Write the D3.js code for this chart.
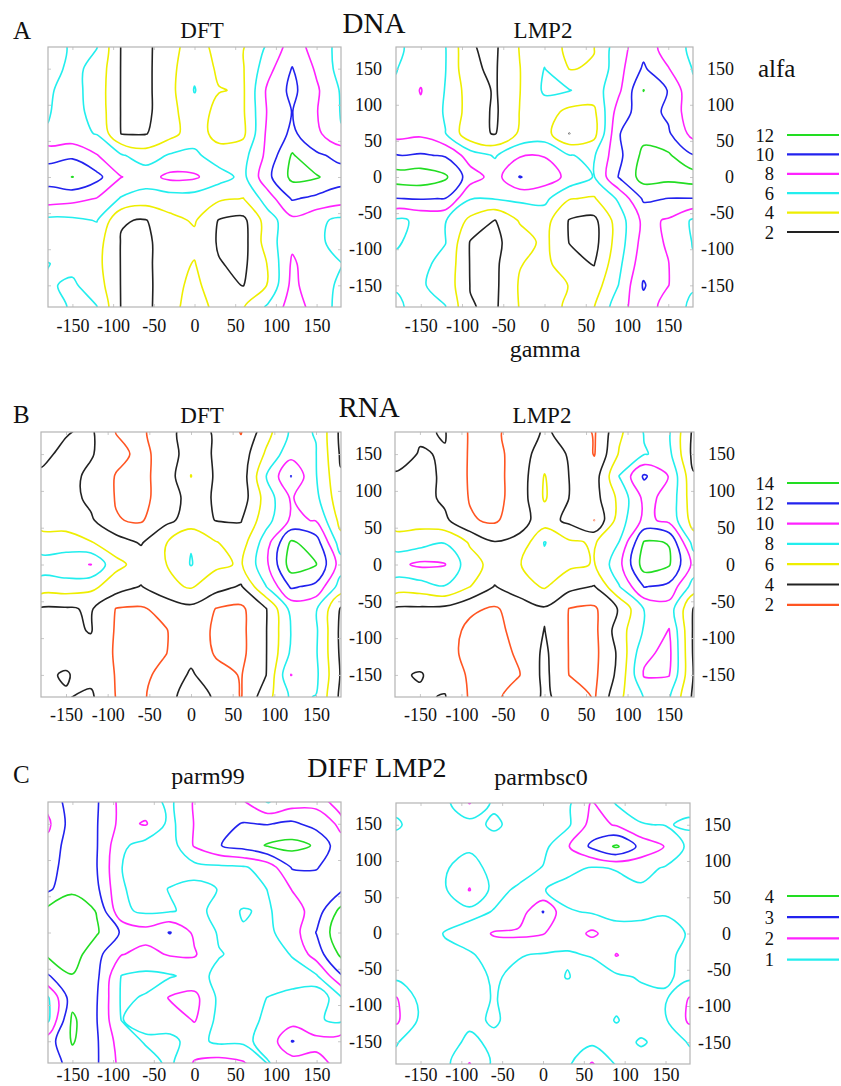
<!DOCTYPE html>
<html>
<head>
<meta charset="utf-8">
<title>alfa / gamma energy maps</title>
<script src="https://cdn.jsdelivr.net/npm/d3@7"></script>
<style>
  body { margin: 0; background: #fff; }
  svg { display: block; }
  text { font-family: "Liberation Serif", "Times New Roman", Times, serif; fill: #111; }
</style>
</head>
<body>
<svg id="chart" width="841" height="1086" viewBox="0 0 841 1086"></svg>
<script>
// grids every 30 deg:
// rows alfa 180 .. -150 (top to bottom), columns gamma -180 .. 150
const gridStep = 30;
const gammaTicks = [-150, -100, -50, 0, 50, 100, 150];
const alfaTicks = [150, 100, 50, 0, -50, -100, -150];

const levelsDNA = [2, 4, 6, 8, 10, 12];
const colorsDNA = ["#222222", "#eeee00", "#22eeee", "#ff22ff", "#2222ee", "#22dd22"];
const levelsRNA = [2, 4, 6, 8, 10, 12, 14];
const colorsRNA = ["#ff5522", "#222222", "#eeee00", "#22eeee", "#ff22ff", "#2222ee", "#22dd22"];
const levelsDIFF = [1, 2, 3, 4];
const colorsDIFF = ["#22eeee", "#ff22ff", "#2222ee", "#22dd22"];

const dnaDFT = [
  [5.3, 6.2, 6.05, 1.9, 1.5, 3.3, 5.0, 3.3, 3.9, 6.3, 9.0, 7.2],
  [5.2, 6.5, 5.4, 1.9, 1.5, 3.4, 5.6, 3.6, 3.9, 7.3, 10.1, 7.7],
  [5.8, 6.6, 5.2, 1.9, 1.5, 3.4, 6.1, 4.1, 3.8, 8.4, 10.5, 8.3],
  [5.9, 6.7, 5.3, 1.9, 1.5, 3.4, 5.2, 3.3, 3.8, 8.2, 10.05, 8.1],
  [6.1, 6.6, 5.9, 1.95, 1.9, 3.3, 5.1, 3.2, 3.6, 8.5, 10.4, 8.5],
  [9.5, 9.6, 8.1, 6.2, 5.0, 6.2, 6.4, 5.0, 5.3, 8.6, 12.2, 10.3],
  [10.8, 12.05, 10.6, 8.05, 7.2, 8.5, 8.3, 6.8, 5.5, 9.5, 12.5, 12.2],
  [9.0, 8.6, 7.9, 5.8, 5.0, 5.0, 5.0, 4.3, 3.95, 7.0, 10.2, 9.5],
  [5.5, 5.6, 6.1, 2.1, 1.9, 3.5, 4.2, 1.9, 1.5, 5.0, 7.5, 6.5],
  [5.3, 5.2, 4.8, 1.9, 1.5, 3.3, 3.5, 1.8, 1.3, 5.0, 7.6, 6.4],
  [6.05, 5.5, 4.6, 1.9, 1.5, 3.3, 4.1, 2.1, 1.6, 4.1, 8.3, 6.8],
  [5.8, 6.3, 5.0, 1.9, 1.5, 3.2, 4.6, 2.5, 1.95, 4.1, 8.6, 6.5]
];

const dnaLMP2 = [
  [5.6, 6.8, 6.05, 2.1, 1.7, 4.1, 5.2, 3.5, 3.95, 7.2, 9.3, 7.0],
  [5.9, 7.3, 6.05, 2.2, 1.8, 3.95, 6.05, 3.95, 4.1, 7.3, 10.3, 8.1],
  [6.3, 8.1, 5.9, 3.0, 1.8, 3.95, 6.3, 6.1, 5.0, 7.6, 12.05, 9.9],
  [6.6, 7.6, 5.8, 3.1, 1.7, 4.05, 5.0, 3.4, 3.6, 9.0, 11.0, 9.6],
  [7.3, 7.6, 6.05, 2.5, 1.9, 4.3, 4.8, 1.98, 3.3, 9.9, 11.4, 10.3],
  [10.1, 10.2, 9.8, 7.0, 5.8, 7.8, 7.9, 6.05, 5.8, 9.5, 12.5, 12.3],
  [13.0, 13.2, 12.3, 9.0, 7.2, 10.1, 9.0, 7.5, 5.9, 10.1, 12.8, 12.6],
  [9.95, 10.1, 9.95, 6.1, 6.1, 6.4, 6.5, 4.1, 3.8, 6.3, 10.3, 9.95],
  [5.7, 6.3, 6.1, 3.5, 1.95, 4.2, 4.8, 1.9, 1.5, 5.0, 8.5, 7.8],
  [5.9, 6.3, 6.05, 1.9, 1.6, 3.0, 4.5, 1.95, 1.3, 5.0, 8.8, 7.8],
  [6.2, 6.4, 5.5, 1.9, 1.6, 3.9, 4.6, 2.6, 1.9, 5.5, 9.3, 8.05],
  [6.2, 6.2, 5.3, 1.95, 1.6, 4.2, 4.8, 3.95, 3.0, 6.05, 10.2, 8.05]
];

const rnaDFT = [
  [3.5, 3.9, 4.3, 1.95, 1.6, 3.4, 4.8, 3.8, 1.9, 5.2, 8.3, 7.95],
  [3.7, 4.3, 4.2, 2.5, 1.6, 2.6, 5.3, 3.7, 2.8, 6.3, 9.3, 8.05],
  [4.2, 4.8, 3.5, 1.9, 1.5, 2.8, 6.05, 3.7, 2.8, 7.95, 12.05, 8.1],
  [4.6, 4.9, 3.5, 1.9, 1.5, 2.8, 4.8, 3.8, 2.9, 6.8, 10.2, 8.5],
  [5.3, 5.2, 4.3, 2.1, 1.8, 3.5, 4.8, 3.95, 3.9, 7.2, 10.3, 9.9],
  [6.8, 6.8, 6.1, 5.0, 3.8, 5.9, 7.9, 6.1, 5.0, 9.05, 14.3, 13.0],
  [9.0, 9.5, 10.05, 6.5, 5.3, 5.95, 8.1, 6.4, 5.8, 9.5, 15.0, 14.1],
  [7.05, 7.05, 6.5, 5.0, 3.9, 5.5, 6.2, 4.8, 3.8, 7.95, 12.3, 11.5],
  [3.8, 3.8, 4.2, 1.95, 1.8, 2.6, 3.5, 1.95, 1.6, 3.9, 8.6, 8.2],
  [3.5, 3.6, 4.1, 1.8, 1.5, 1.9, 3.3, 1.6, 1.5, 3.9, 8.05, 8.3],
  [3.6, 3.6, 3.3, 1.8, 1.5, 1.95, 3.3, 1.8, 1.5, 3.9, 8.3, 8.2],
  [3.8, 4.1, 3.5, 1.9, 1.6, 2.5, 4.3, 2.6, 1.9, 3.95, 10.05, 8.4]
];

const rnaLMP2 = [
  [3.5, 3.8, 4.1, 1.8, 1.6, 3.0, 4.2, 3.5, 1.8, 5.6, 8.1, 8.2],
  [3.3, 4.1, 3.9, 1.8, 1.4, 2.9, 5.2, 3.8, 1.9, 6.2, 7.9, 8.5],
  [4.2, 4.6, 3.7, 1.8, 1.4, 2.9, 6.1, 3.95, 3.0, 8.05, 12.3, 9.9],
  [4.6, 4.8, 3.6, 1.9, 1.4, 2.9, 6.2, 3.95, 3.2, 6.5, 10.5, 9.5],
  [5.05, 5.2, 4.4, 2.2, 1.7, 3.3, 4.9, 3.5, 1.98, 7.0, 10.5, 9.5],
  [7.05, 7.2, 7.9, 5.8, 4.1, 4.5, 8.1, 6.3, 5.8, 8.05, 14.2, 13.95],
  [9.4, 10.4, 10.1, 6.8, 5.3, 5.9, 7.5, 6.4, 5.9, 9.4, 15.0, 14.2],
  [7.05, 7.05, 7.9, 6.05, 3.9, 5.2, 6.2, 4.6, 3.9, 7.9, 12.1, 11.5],
  [3.8, 3.7, 3.5, 2.3, 1.8, 2.8, 3.8, 1.95, 1.7, 4.2, 8.1, 9.05],
  [3.6, 3.5, 2.8, 1.6, 1.5, 2.6, 4.05, 1.9, 1.5, 5.05, 8.2, 10.1],
  [3.6, 3.4, 2.5, 1.6, 1.5, 2.2, 4.4, 1.9, 1.5, 4.4, 9.6, 10.5],
  [3.8, 4.1, 3.4, 1.7, 1.5, 1.95, 4.5, 1.95, 1.6, 4.6, 10.2, 10.1]
];

const diffParm99 = [
  [2.3, 3.5, 3.1, 1.7, 1.4, 0.8, 2.1, 2.4, 2.1, 0.95, 1.5, 1.7],
  [1.8, 3.5, 3.05, 1.7, 2.1, 0.7, 2.05, 2.7, 3.05, 2.95, 3.2, 2.6],
  [2.3, 3.6, 3.05, 1.2, 0.6, 0.5, 2.1, 2.95, 3.4, 4.1, 4.3, 3.9],
  [2.5, 3.7, 3.02, 1.02, 0.5, 0.5, 0.7, 0.8, 0.9, 1.4, 3.1, 3.05],
  [2.8, 3.8, 3.2, 1.1, 0.6, 1.05, 1.2, 0.98, 0.6, 1.02, 2.05, 2.6],
  [4.3, 4.6, 3.95, 1.2, 0.8, 0.9, 1.3, 0.7, 1.05, 0.9, 1.5, 2.5],
  [4.8, 4.8, 4.1, 2.9, 2.4, 3.05, 1.8, 0.9, 0.95, 0.8, 1.5, 3.05],
  [4.2, 4.5, 3.3, 2.05, 1.7, 2.1, 2.1, 1.05, 0.8, 0.6, 1.05, 2.5],
  [2.9, 3.95, 3.2, 0.98, 0.8, 0.9, 1.3, 0.8, 0.6, 0.5, 0.7, 0.9],
  [0.9, 3.6, 3.05, 0.9, 1.05, 2.1, 2.3, 0.8, 0.6, 1.02, 1.2, 1.1],
  [0.8, 4.2, 3.02, 0.98, 1.2, 1.4, 2.1, 0.7, 0.6, 1.2, 1.5, 1.1],
  [2.5, 4.1, 3.1, 1.5, 0.9, 0.8, 1.3, 0.8, 0.8, 1.3, 3.05, 2.3]
];

const diffBsc0 = [
  [0.8, 0.6, 0.7, 2.05, 0.8, 0.6, 0.6, 0.8, 2.1, 0.9, 0.6, 0.7],
  [1.1, 0.7, 0.6, 0.6, 1.2, 0.6, 0.5, 0.8, 2.4, 1.9, 1.05, 0.95],
  [0.7, 0.5, 0.5, 0.8, 0.5, 0.5, 0.7, 1.9, 3.2, 4.15, 2.7, 1.95],
  [0.7, 0.6, 0.9, 1.5, 0.6, 0.6, 1.05, 1.3, 0.9, 1.05, 1.3, 0.9],
  [0.6, 0.6, 0.9, 2.05, 0.7, 1.15, 1.05, 0.6, 0.6, 0.7, 0.85, 0.7],
  [0.6, 0.5, 0.6, 0.7, 1.05, 1.4, 3.05, 1.1, 0.9, 0.7, 0.8, 0.95],
  [0.95, 0.5, 1.05, 1.4, 2.1, 2.2, 2.05, 1.4, 2.2, 1.4, 1.3, 1.2],
  [0.6, 0.5, 0.8, 0.9, 1.3, 1.05, 0.9, 0.9, 1.05, 2.05, 1.4, 1.3],
  [0.8, 0.5, 0.5, 0.7, 1.1, 0.8, 0.6, 1.05, 0.6, 0.8, 1.1, 1.1],
  [2.1, 0.7, 0.6, 0.7, 1.05, 0.7, 0.5, 0.5, 0.6, 0.8, 0.7, 0.9],
  [2.2, 0.8, 0.6, 0.8, 1.1, 0.7, 0.5, 0.5, 0.6, 1.05, 0.6, 0.9],
  [1.05, 0.6, 0.6, 1.2, 0.8, 0.6, 0.5, 0.6, 0.8, 0.6, 1.1, 0.7]
];

(() => {
    let svg = d3.select("#chart");
    let defs = svg.append("defs");
    let serif = "Liberation Serif, Times New Roman, serif";

    let panels = [
        {id: "a1", data: dnaDFT, levels: levelsDNA, colors: colorsDNA, x0: 48, x1: 341, y0: 47, y1: 307, pad: 12},
        {id: "a2", data: dnaLMP2, levels: levelsDNA, colors: colorsDNA, x0: 396, x1: 693, y0: 47, y1: 307, pad: 12},
        {id: "b1", data: rnaDFT, levels: levelsRNA, colors: colorsRNA, x0: 41, x1: 341, y0: 432, y1: 697, pad: 11},
        {id: "b2", data: rnaLMP2, levels: levelsRNA, colors: colorsRNA, x0: 395, x1: 694, y0: 432, y1: 697, pad: 11},
        {id: "c1", data: diffParm99, levels: levelsDIFF, colors: colorsDIFF, x0: 48, x1: 341, y0: 802, y1: 1063, pad: 5},
        {id: "c2", data: diffBsc0, levels: levelsDIFF, colors: colorsDIFF, x0: 396, x1: 690, y0: 803, y1: 1064, pad: 4}
    ];

    let drawPanel = (p) => {
        let x = d3.scaleLinear().domain([-180, 180]).range([p.x0, p.x1]);
        let y = d3.scaleLinear().domain([180, -180]).range([p.y0, p.y1]);

        defs.append("clipPath")
            .attr("id", "clip-" + p.id)
            .append("rect")
            .attr("x", p.x0)
            .attr("y", p.y0)
            .attr("width", p.x1 - p.x0)
            .attr("height", p.y1 - p.y0);

        // periodic angles: pad the grid by one cell on every side
        let n = p.data.length;
        let wrap = [n - 1].concat(d3.range(n), [0, 1]);
        let values = [];
        wrap.forEach(r => wrap.forEach(c => values.push(p.data[r][c])));

        let iso = d3.contours()
            .size([wrap.length, wrap.length])
            .thresholds(p.levels)(values);

        let line = d3.line()
            .x(d => x(-180 - gridStep + gridStep * (d[0] - 0.5)))
            .y(d => y(180 + gridStep - gridStep * (d[1] - 0.5)))
            .curve(d3.curveCatmullRomClosed.alpha(0.5));

        let g = svg.append("g").attr("clip-path", "url(#clip-" + p.id + ")");
        iso.forEach((c, i) => {
            c.coordinates.forEach(poly => poly.forEach(ring => {
                g.append("path")
                    .attr("d", line(ring.slice(0, -1)))
                    .attr("fill", "none")
                    .attr("stroke", p.colors[i])
                    .attr("stroke-width", 1.6)
                    .attr("stroke-linejoin", "round");
            }));
        });

        let styleAxis = (s) => {
            s.select(".domain").remove();
            s.selectAll("line").attr("stroke", "#c8c8c8");
            s.attr("font-size", 18).attr("font-family", serif);
        };

        svg.append("g")
            .attr("transform", "translate(0," + p.y1 + ")")
            .call(d3.axisBottom(x).tickValues(gammaTicks).tickSizeInner(-3).tickSizeOuter(0)
                .tickPadding(p.pad).tickFormat(d => String(d)))
            .call(styleAxis);

        svg.append("g")
            .attr("transform", "translate(0," + p.y0 + ")")
            .call(d3.axisTop(x).tickValues(gammaTicks).tickSizeInner(-3).tickSizeOuter(0).tickFormat(""))
            .call(styleAxis);

        svg.append("g")
            .attr("transform", "translate(" + p.x0 + ",0)")
            .call(d3.axisLeft(y).tickValues(alfaTicks).tickSizeInner(-3).tickSizeOuter(0).tickFormat(""))
            .call(styleAxis);

        svg.append("g")
            .attr("transform", "translate(" + p.x1 + ",0)")
            .call(d3.axisRight(y).tickValues(alfaTicks).tickSizeInner(-3).tickSizeOuter(0)
                .tickFormat(d => String(d)))
            .call(styleAxis)
            .attr("text-anchor", "end")
            .selectAll("text")
            .attr("x", 41);

        svg.append("rect")
            .attr("x", p.x0)
            .attr("y", p.y0)
            .attr("width", p.x1 - p.x0)
            .attr("height", p.y1 - p.y0)
            .attr("fill", "none")
            .attr("stroke", "#b4b4b4")
            .attr("stroke-width", 1.2);
    };

    panels.forEach(drawPanel);

    let drawLegend = (levels, colors, top, step) => {
        let items = levels.map((v, i) => ({v: v, c: colors[i]})).reverse();
        let pos = d3.scaleLinear().domain([0, 1]).range([top, top + step]);
        let g = svg.append("g");
        g.selectAll("line")
            .data(items)
            .enter()
            .append("line")
            .attr("x1", 787)
            .attr("x2", 839)
            .attr("y1", (d, i) => pos(i))
            .attr("y2", (d, i) => pos(i))
            .attr("stroke", d => d.c)
            .attr("stroke-width", 2.2);
        g.selectAll("text")
            .data(items)
            .enter()
            .append("text")
            .attr("x", 774)
            .attr("y", (d, i) => pos(i) + 6.5)
            .attr("text-anchor", "end")
            .attr("font-size", 18.5)
            .text(d => d.v);
    };

    drawLegend(levelsDNA, colorsDNA, 135, 19.4);
    drawLegend(levelsRNA, colorsRNA, 483, 20.3);
    drawLegend(levelsDIFF, colorsDIFF, 896, 21.2);

    let labels = [
        {t: "A", x: 13, y: 39, s: 25, a: "start"},
        {t: "DFT", x: 202, y: 38, s: 23, a: "middle"},
        {t: "DNA", x: 374, y: 33, s: 29, a: "middle"},
        {t: "LMP2", x: 543, y: 38, s: 23, a: "middle"},
        {t: "alfa", x: 758, y: 77, s: 25, a: "start"},
        {t: "gamma", x: 545, y: 357, s: 24, a: "middle"},
        {t: "B", x: 13, y: 423, s: 25, a: "start"},
        {t: "DFT", x: 202, y: 423, s: 23, a: "middle"},
        {t: "RNA", x: 369, y: 417, s: 29, a: "middle"},
        {t: "LMP2", x: 542, y: 423, s: 23, a: "middle"},
        {t: "C", x: 13, y: 783, s: 25, a: "start"},
        {t: "parm99", x: 208, y: 784, s: 24, a: "middle"},
        {t: "DIFF LMP2", x: 377, y: 777, s: 28, a: "middle"},
        {t: "parmbsc0", x: 541, y: 785, s: 24, a: "middle"}
    ];

    svg.selectAll("text.title")
        .data(labels)
        .enter()
        .append("text")
        .attr("class", "title")
        .attr("x", d => d.x)
        .attr("y", d => d.y)
        .attr("font-size", d => d.s)
        .attr("text-anchor", d => d.a)
        .text(d => d.t);
})();
</script>
</body>
</html>
